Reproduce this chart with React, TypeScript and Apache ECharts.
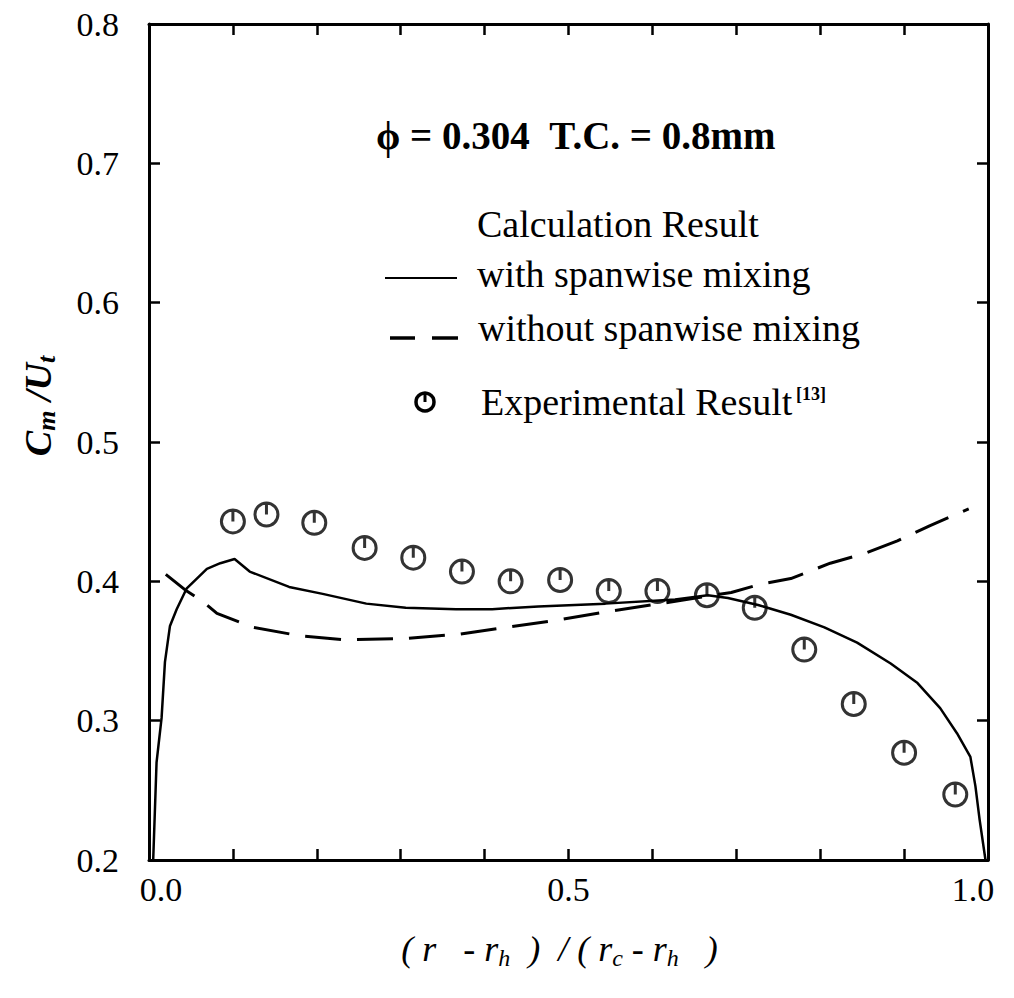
import React, { useEffect, useRef } from 'react';
import * as echarts from 'echarts';

// ---- Data ----
const withMixingX = [0.005, 0.009, 0.015, 0.019, 0.025, 0.033, 0.045, 0.069, 0.085, 0.102, 0.12, 0.167, 0.207, 0.259, 0.306, 0.366, 0.409, 0.464, 0.544, 0.627, 0.666, 0.69, 0.726, 0.765, 0.805, 0.844, 0.884, 0.916, 0.943, 0.963, 0.979, 0.985, 0.99, 0.997];
const withMixingY = [0.2, 0.27, 0.302, 0.342, 0.368, 0.38, 0.395, 0.409, 0.413, 0.416, 0.407, 0.396, 0.391, 0.384, 0.381, 0.38, 0.38, 0.382, 0.384, 0.387, 0.39, 0.388, 0.383, 0.376, 0.367, 0.356, 0.341, 0.327, 0.309, 0.291, 0.274, 0.253, 0.229, 0.2];

const withoutMixingX = [0.02, 0.045, 0.063, 0.081, 0.124, 0.179, 0.235, 0.306, 0.369, 0.425, 0.485, 0.544, 0.62, 0.694, 0.729, 0.765, 0.812, 0.853, 0.892, 0.931, 0.977];
const withoutMixingY = [0.405, 0.393, 0.386, 0.377, 0.367, 0.361, 0.358, 0.359, 0.362, 0.367, 0.372, 0.378, 0.385, 0.392, 0.398, 0.402, 0.413, 0.42, 0.429, 0.44, 0.452];

const expX = [0.1, 0.14, 0.197, 0.257, 0.315, 0.373, 0.431, 0.49, 0.548, 0.606, 0.665, 0.722, 0.781, 0.84, 0.9, 0.961];
const expY = [0.443, 0.448, 0.442, 0.424, 0.417, 0.407, 0.4, 0.401, 0.393, 0.393, 0.39, 0.381, 0.351, 0.312, 0.277, 0.247];

const xLabelValues = [0, 0.5, 1.0];
const xLabelTexts = ['0.0', '0.5', '1.0'];

const legendTitle = 'Calculation Result';
const legendWith = 'with spanwise mixing';
const legendWithout = 'without spanwise mixing';
const legendExp = 'Experimental Result';
const legendRef = '[13]';
const conditionText = 'ϕ = 0.304  T.C. = 0.8mm';

const SERIF = '"Liberation Serif", "Times New Roman", serif';
const markerPath = 'path://M12,1 A11,11 0 1,1 12,23 A11,11 0 1,1 12,1 Z M12,1 L12,12';

const zip = (xs: number[], ys: number[]) => xs.map((x, i) => [x, ys[i]]);

const makeLine = () => ({ show: true, onZero: false, lineStyle: { color: '#000', width: 3 } });
const makeTick = () => ({ show: true, inside: true, length: 11, lineStyle: { color: '#000', width: 2.5 } });

export default function App() {
  const ref = useRef<HTMLDivElement>(null);
  useEffect(() => {
    if (!ref.current) return;
    const chart = echarts.init(ref.current, null, { renderer: 'svg' });

    const legendText = (text: string, x: number, y: number, size = 38, weight = 'normal') => ({
      type: 'text', x, y,
      style: { text, fontFamily: SERIF, fontSize: size, fontWeight: weight, fill: '#000', align: 'left', verticalAlign: 'middle' },
    });

    const option: any = {
      animation: false,
      backgroundColor: '#fff',
      grid: { left: 149, right: 26, top: 24, bottom: 138 },
      xAxis: [
        {
          type: 'value', min: 0, max: 1, interval: 0.1, position: 'bottom',
          axisLine: makeLine(), axisTick: makeTick(), splitLine: { show: false },
          axisLabel: {
            color: '#000', fontFamily: SERIF, fontSize: 34, margin: 12,
            formatter: (v: number) => {
              const i = xLabelValues.findIndex((t) => Math.abs(t - v) < 1e-6);
              if (i < 0) return '';
              if (i === 0) return '{l|' + xLabelTexts[i] + '}';
              if (i === xLabelValues.length - 1) return '{r|' + xLabelTexts[i] + '}';
              return xLabelTexts[i];
            },
            rich: {
              l: { fontFamily: SERIF, fontSize: 34, color: '#000', padding: [0, 0, 0, 24] },
              r: { fontFamily: SERIF, fontSize: 34, color: '#000', padding: [0, 30, 0, 0] },
            },
          },
          name: '{i|( r   - r}{s|h}{i|  )  / ( r}{s|c}{i| - r}{s|h}{i|   )}',
          nameLocation: 'middle', nameGap: 68,
          nameTextStyle: {
            padding: [0, 18, 0, 0],
            rich: {
              i: { fontFamily: SERIF, fontStyle: 'italic', fontSize: 36, color: '#000', lineHeight: 42 },
              s: { fontFamily: SERIF, fontStyle: 'italic', fontSize: 24, color: '#000', lineHeight: 24, verticalAlign: 'bottom' },
            },
          },
        },
        {
          type: 'value', min: 0, max: 1, interval: 0.1, position: 'top',
          axisLine: makeLine(), axisTick: makeTick(), axisLabel: { show: false }, splitLine: { show: false },
        },
      ],
      yAxis: [
        {
          type: 'value', min: 0.2, max: 0.8, interval: 0.1, position: 'left',
          axisLine: makeLine(), axisTick: makeTick(), splitLine: { show: false },
          axisLabel: { color: '#000', fontFamily: SERIF, fontSize: 34, margin: 30, formatter: (v: number) => v.toFixed(1) },
        },
        {
          type: 'value', min: 0.2, max: 0.8, interval: 0.1, position: 'right',
          axisLine: makeLine(), axisTick: makeTick(), axisLabel: { show: false }, splitLine: { show: false },
        },
      ],
      series: [
        {
          name: legendWith, type: 'line', data: zip(withMixingX, withMixingY),
          showSymbol: false, symbol: 'none', smooth: false,
          lineStyle: { color: '#000', width: 2.5 },
        },
        {
          name: legendWithout, type: 'line', data: zip(withoutMixingX, withoutMixingY),
          showSymbol: false, symbol: 'none', smooth: false,
          lineStyle: { color: '#000', width: 3, type: [36, 16] },
        },
        {
          name: legendExp, type: 'scatter', data: zip(expX, expY),
          symbol: markerPath, symbolSize: 23,
          itemStyle: { color: 'rgba(0,0,0,0)', borderColor: '#000', borderWidth: 3 },
        },
      ],
      graphic: [
        legendText(conditionText, 376, 135, 39, 'bold'),
        legendText(legendTitle, 477, 224),
        { type: 'line', shape: { x1: 385, y1: 278, x2: 457, y2: 278 }, style: { stroke: '#000', lineWidth: 2 } },
        legendText(legendWith, 477, 274),
        { type: 'line', shape: { x1: 390, y1: 338, x2: 415, y2: 338 }, style: { stroke: '#000', lineWidth: 3.5 } },
        { type: 'line', shape: { x1: 432, y1: 338, x2: 458, y2: 338 }, style: { stroke: '#000', lineWidth: 3.5 } },
        legendText(legendWithout, 478, 328),
        { type: 'circle', shape: { cx: 425, cy: 402, r: 9 }, style: { fill: 'none', stroke: '#000', lineWidth: 3.5 } },
        { type: 'line', shape: { x1: 425, y1: 393, x2: 425, y2: 402 }, style: { stroke: '#000', lineWidth: 3 } },
        legendText(legendExp, 481, 402),
        legendText(legendRef, 796, 394, 18, 'bold'),
        {
          type: 'text', x: 38, y: 406, rotation: Math.PI / 2,
          style: {
            text: '{c|C}{s|m}{c| /U}{s|t}',
            align: 'center', verticalAlign: 'middle',
            rich: {
              c: { fontFamily: SERIF, fontStyle: 'italic', fontWeight: 'bold', fontSize: 38, fill: '#000', lineHeight: 42 },
              s: { fontFamily: SERIF, fontStyle: 'italic', fontWeight: 'bold', fontSize: 26, fill: '#000', lineHeight: 26, verticalAlign: 'bottom' },
            },
          },
        },
      ],
    };

    chart.setOption(option);
    return () => chart.dispose();
  }, []);

  return (
    <div
      ref={ref}
      style={{ position: 'fixed', left: 0, top: 0, width: 1014, height: 998, background: '#fff' }}
    />
  );
}
